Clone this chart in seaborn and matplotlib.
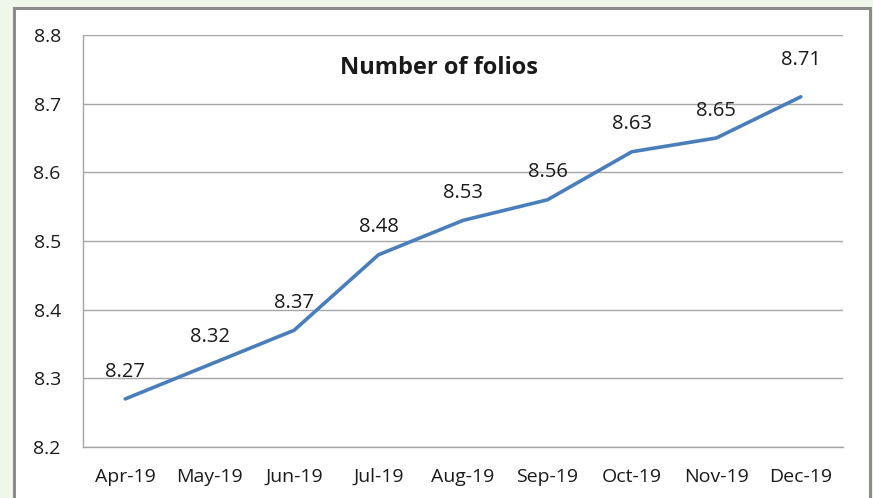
import numpy as np
import pandas as pd
import matplotlib
matplotlib.use('Agg')
import matplotlib.pyplot as plt
import seaborn as sns
from matplotlib.patches import Rectangle

months = ['Apr-19', 'May-19', 'Jun-19', 'Jul-19', 'Aug-19', 'Sep-19', 'Oct-19', 'Nov-19', 'Dec-19']
folios = [8.27, 8.32, 8.37, 8.48, 8.53, 8.56, 8.63, 8.65, 8.71]
y_ticks = [8.2, 8.3, 8.4, 8.5, 8.6, 8.7, 8.8]

df = pd.DataFrame({'month': months, 'folios': folios})

sns.set_style('white')
plt.rcParams['font.family'] = ['Open Sans', 'DejaVu Sans']

fig = plt.figure(figsize=(8.73, 4.98), dpi=100)
fig.patch.set_facecolor('#eef7ea')

# white chart area with grey frame (behind the axes)
fig.patches.append(Rectangle((14 / 873, -0.02), 856 / 873, 1 - 8 / 498 + 0.02,
                             transform=fig.transFigure, facecolor='white',
                             edgecolor='#8c8c8c', linewidth=2.2, zorder=-5))

ax = fig.add_axes([83 / 873, 1 - 447 / 498, 760 / 873, 412 / 498])
ax.set_facecolor('none')
ax.set_zorder(2)

sns.lineplot(data=df, x='month', y='folios', ax=ax, color='#4a7ebb', linewidth=2.6, sort=False)

for i, v in enumerate(folios):
    # last label sits a bit higher in the original
    dy = 19 if i == len(folios) - 1 else 12.5
    ax.annotate(f'{v:.2f}', (i, v), xytext=(0, dy), textcoords='offset points',
                ha='center', va='bottom', fontsize=14.5, color='#1a1a1a')

ax.set_xlim(-0.5, len(months) - 0.5)
ax.set_ylim(8.2, 8.8)
ax.set_yticks(y_ticks)
ax.set_yticklabels([f'{t:.1f}' for t in y_ticks])
ax.yaxis.grid(True, color='#a6a6a6', linewidth=1.0)
ax.set_axisbelow(True)

for s in ['top', 'right']:
    ax.spines[s].set_visible(False)
for s in ['left', 'bottom']:
    ax.spines[s].set_color('#a6a6a6')
    ax.spines[s].set_linewidth(1.0)

ax.tick_params(axis='both', length=0, labelsize=14, colors='#1a1a1a')
ax.tick_params(axis='y', pad=16)
ax.tick_params(axis='x', pad=15)
ax.set_xlabel('')
ax.set_ylabel('')

ax.text(0.468, 0.92, 'Number of folios', transform=ax.transAxes, ha='center', va='center',
        fontsize=17, fontweight='bold', color='#1a1a1a')

fig.savefig('out.png', dpi=100)
